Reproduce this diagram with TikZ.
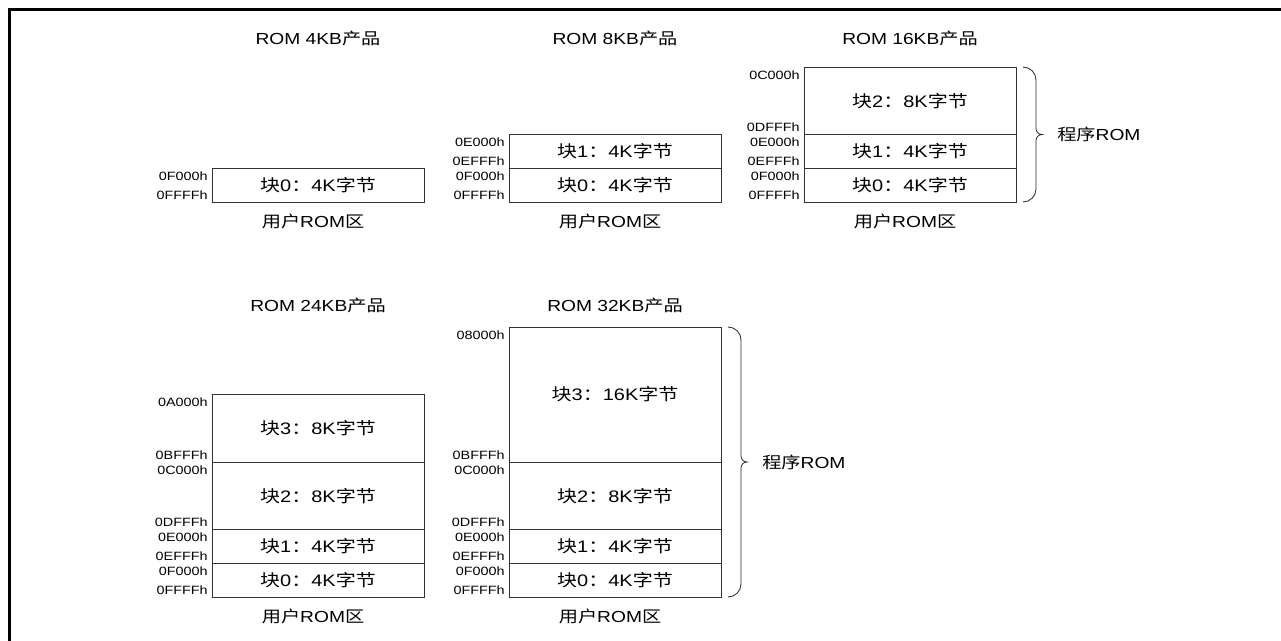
\documentclass[tikz,border=0pt]{standalone}
\usepackage{fontspec}
\setmainfont[FakeStretch=1.2]{Liberation Sans}
\newfontfamily\cjkfont[FakeStretch=1.2]{Noto Sans CJK SC}
\newcommand{\zh}[1]{{\cjkfont #1}}
\usetikzlibrary{positioning, calc}

\tikzset{
  blk/.style={draw=black!80, line width=0.6pt, minimum width=159pt, inner sep=0pt, outer sep=0pt,
    font=\fontsize{12.5}{14}\selectfont},
  k4/.style={blk, minimum height=25.31pt},
  k8/.style={blk, minimum height=50.62pt},
  k16/.style={blk, minimum height=101.25pt},
  addr/.style={anchor=east, inner sep=0pt, font=\fontsize{9}{10}\selectfont},
  ttl/.style={inner sep=0pt, font=\fontsize{12}{14}\selectfont},
  brc/.style={draw=black!85, line width=0.6pt}
}

\begin{document}
\begin{tikzpicture}[x=0.75pt, y=0.75pt]
  \useasboundingbox (0,0) rectangle (1281,641);
  \draw[line width=2.25pt] (9,0) -- (9,631) -- (1281,631);

  % upper row
  \node[k4, anchor=south west] (p1b0) at (212,439) {\zh{块}0\zh{：}4K\zh{字节}};

  \node[k4, anchor=south west] (p2b0) at (509,439) {\zh{块}0\zh{：}4K\zh{字节}};
  \node[k4, above=0pt of p2b0] (p2b1) {\zh{块}1\zh{：}4K\zh{字节}};

  \node[k4, anchor=south west] (p3b0) at (804,439) {\zh{块}0\zh{：}4K\zh{字节}};
  \node[k4, above=0pt of p3b0] (p3b1) {\zh{块}1\zh{：}4K\zh{字节}};
  \node[k8, above=0pt of p3b1] (p3b2) {\zh{块}2\zh{：}8K\zh{字节}};

  % lower row
  \node[k4, anchor=south west] (p4b0) at (212,44) {\zh{块}0\zh{：}4K\zh{字节}};
  \node[k4, above=0pt of p4b0] (p4b1) {\zh{块}1\zh{：}4K\zh{字节}};
  \node[k8, above=0pt of p4b1] (p4b2) {\zh{块}2\zh{：}8K\zh{字节}};
  \node[k8, above=0pt of p4b2] (p4b3) {\zh{块}3\zh{：}8K\zh{字节}};

  \node[k4, anchor=south west] (p5b0) at (509,44) {\zh{块}0\zh{：}4K\zh{字节}};
  \node[k4, above=0pt of p5b0] (p5b1) {\zh{块}1\zh{：}4K\zh{字节}};
  \node[k8, above=0pt of p5b1] (p5b2) {\zh{块}2\zh{：}8K\zh{字节}};
  \node[k16, above=0pt of p5b2] (p5b3) {\zh{块}3\zh{：}16K\zh{字节}};

  % addresses
  \foreach \b/\hi/\lo in {p1b0/0F000h/0FFFFh, p2b0/0F000h/0FFFFh, p2b1/0E000h/0EFFFh,
      p3b0/0F000h/0FFFFh, p3b1/0E000h/0EFFFh, p3b2/0C000h/0DFFFh,
      p4b0/0F000h/0FFFFh, p4b1/0E000h/0EFFFh, p4b2/0C000h/0DFFFh, p4b3/0A000h/0BFFFh,
      p5b0/0F000h/0FFFFh, p5b1/0E000h/0EFFFh, p5b2/0C000h/0DFFFh, p5b3/08000h/0BFFFh} {
    \node[addr] (\b-hi) at ($(\b.north west)+(-4,-8)$) {\hi};
    \node[addr] (\b-lo) at ($(\b.south west)+(-4,7)$) {\lo};
  }

  % titles and footers
  \node[ttl] (t1) at (p1b0 |- 0,603) {ROM 4KB\zh{产品}};
  \node[ttl] (t2) at (p2b0 |- 0,603) {ROM 8KB\zh{产品}};
  \node[ttl] (t3) at (p3b0 |- 0,603) {ROM 16KB\zh{产品}};
  \node[ttl] (t4) at (p4b0 |- 0,336) {ROM 24KB\zh{产品}};
  \node[ttl] (t5) at (p5b0 |- 0,336) {ROM 32KB\zh{产品}};
  \foreach \p in {p1,p2,p3,p4,p5}
    \node[ttl] (\p-user) at ($(\p b0.south)+(-5,-19)$) {\zh{用户}ROM\zh{区}};

  % braces
  \foreach \p/\t in {p3/p3b2, p5/p5b3} {
    \coordinate (\p u) at ($(\t.north east)+(7,0)$);
    \coordinate (\p d) at ($(\p b0.south east)+(7,0)$);
    \coordinate (\p m) at ($(\p u)!.5!(\p d)$);
    \draw[brc] (\p u) to[out=0,in=90] ++(13,-13) -- ($(\p m)+(13,6)$)
      to[out=-90,in=180] ++(6,-6) to[out=180,in=90] ++(-6,-6)
      -- ($(\p d)+(13,13)$) to[out=-90,in=0] (\p d);
    \node[ttl, anchor=west] (\p-prog) at ($(\p m)+(34,0)$) {\zh{程序}ROM};
  }
\end{tikzpicture}
\end{document}
